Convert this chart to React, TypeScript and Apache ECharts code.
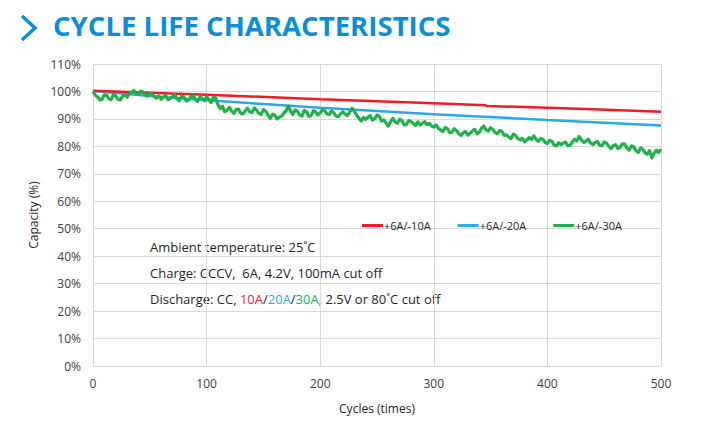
import React, { useEffect, useRef } from "react";
import * as echarts from "echarts";

// Capacity retention (%) against cycle count for three discharge currents
const redPoints: [number, number][] = [
  [0, 100.3], [100, 98.8], [200, 97.2], [300, 95.7], [345, 95.0],
  [347, 94.7], [400, 94.1], [440, 93.5], [500, 92.6],
];

const bluePoints: [number, number][] = [
  [0, 100.2], [50, 98.3], [100, 96.8], [150, 95.4], [200, 94.1],
  [250, 92.9], [300, 91.7], [400, 89.6], [500, 87.6],
];

const greenPoints: [number, number][] = [
  [0, 100.0], [2, 98.6], [4, 98.0], [6, 96.9], [8, 97.2], [10, 98.8], [12, 98.6], [14, 97.3],
  [16, 97.0], [18, 98.9], [20, 98.4], [22, 97.1], [24, 96.9], [26, 98.2], [28, 98.8], [30, 97.9],
  [32, 99.2], [34, 99.6], [36, 100.4], [38, 99.1], [40, 99.0], [42, 100.1], [44, 99.8], [46, 98.6],
  [48, 98.3], [50, 99.4], [52, 98.9], [54, 98.1], [56, 97.6], [58, 98.4], [60, 97.1], [62, 98.0],
  [64, 98.6], [66, 97.0], [68, 97.4], [70, 98.1], [72, 98.9], [74, 97.3], [76, 96.6], [78, 98.4],
  [80, 98.0], [82, 96.5], [84, 96.8], [86, 97.9], [88, 98.7], [90, 97.2], [92, 96.4], [94, 97.9],
  [96, 97.6], [98, 96.6], [100, 98.2], [102, 97.0], [104, 96.0], [106, 98.0], [108, 97.6], [110, 95.2],
  [112, 93.8], [114, 94.6], [116, 92.6], [118, 93.1], [120, 94.2], [122, 92.8], [124, 92.0], [126, 93.4],
  [128, 93.6], [130, 92.1], [132, 91.8], [134, 92.9], [136, 93.9], [138, 92.6], [140, 92.3], [142, 94.0],
  [144, 93.2], [146, 92.0], [148, 91.6], [150, 93.4], [152, 92.8], [154, 91.5], [156, 90.2], [158, 91.7],
  [160, 91.4], [162, 90.0], [164, 90.6], [166, 91.0], [168, 92.1], [170, 93.0], [172, 94.6], [174, 92.8],
  [176, 91.6], [178, 93.3], [180, 92.8], [182, 91.4], [184, 91.0], [186, 93.1], [188, 92.6], [190, 90.9],
  [192, 91.2], [194, 93.0], [196, 92.6], [198, 91.4], [200, 92.2], [202, 93.4], [204, 93.0], [206, 91.8],
  [208, 91.6], [210, 92.9], [212, 92.2], [214, 91.0], [216, 90.8], [218, 91.9], [220, 92.6], [222, 91.7],
  [224, 91.2], [226, 92.5], [228, 93.9], [230, 92.8], [232, 91.4], [234, 90.3], [236, 89.2], [238, 90.5],
  [240, 89.8], [242, 90.6], [244, 91.2], [246, 89.6], [248, 90.0], [250, 91.4], [252, 91.0], [254, 89.2],
  [256, 89.6], [258, 88.6], [260, 87.4], [262, 89.0], [264, 90.2], [266, 88.9], [268, 88.4], [270, 89.9],
  [272, 89.4], [274, 87.8], [276, 88.0], [278, 89.4], [280, 89.0], [282, 88.3], [284, 87.6], [286, 88.9],
  [288, 87.8], [290, 88.4], [292, 89.0], [294, 87.9], [296, 88.4], [298, 87.4], [300, 87.0], [302, 87.8],
  [304, 86.6], [306, 86.0], [308, 85.4], [310, 86.9], [312, 86.4], [314, 85.0], [316, 85.2], [318, 86.4],
  [320, 85.8], [322, 84.6], [324, 84.0], [326, 85.0], [328, 85.4], [330, 84.1], [332, 84.8], [334, 85.6],
  [336, 86.2], [338, 84.6], [340, 85.0], [342, 86.6], [344, 87.4], [346, 86.0], [348, 85.6], [350, 86.8],
  [352, 86.2], [354, 85.0], [356, 84.6], [358, 85.8], [360, 85.4], [362, 84.0], [364, 84.2], [366, 83.4],
  [368, 82.8], [370, 84.4], [372, 84.0], [374, 82.8], [376, 82.4], [378, 82.9], [380, 81.6], [382, 82.4],
  [384, 83.2], [386, 82.5], [388, 83.8], [390, 82.6], [392, 81.8], [394, 82.9], [396, 82.6], [398, 81.4],
  [400, 81.0], [402, 82.2], [404, 81.8], [406, 80.4], [408, 80.2], [410, 81.3], [412, 80.6], [414, 81.2],
  [416, 81.6], [418, 80.2], [420, 80.4], [422, 81.6], [424, 82.6], [426, 82.0], [428, 83.6], [430, 82.3],
  [432, 81.4], [434, 82.0], [436, 82.6], [438, 81.2], [440, 80.6], [442, 81.4], [444, 81.8], [446, 80.4],
  [448, 80.2], [450, 81.6], [452, 81.2], [454, 80.0], [456, 79.2], [458, 80.2], [460, 80.6], [462, 79.2],
  [464, 79.6], [466, 80.9], [468, 80.8], [470, 79.4], [472, 78.6], [474, 80.2], [476, 79.8], [478, 78.4],
  [480, 77.8], [482, 79.4], [484, 79.0], [486, 77.6], [488, 77.2], [490, 78.4], [492, 75.8], [494, 77.6],
  [496, 78.6], [498, 77.8], [500, 79.0],
];

const seriesNames = ["+6A/-10A", "+6A/-20A", "+6A/-30A"];
const seriesColors = ["#ee1c25", "#29a9e6", "#22b04b"];

const FONT = "'Open Sans', 'Noto Sans', sans-serif";
const TEXT_DARK = "#262626";
const AXIS_TEXT = "#404040";
const GRID_COLOR = "#d9d9d9";
const TITLE_BLUE = "#0b8ed8";

export default function App() {
  const ref = useRef<HTMLDivElement>(null);

  useEffect(() => {
    if (!ref.current) return;
    const chart = echarts.init(ref.current, undefined, { renderer: "svg" });

    chart.setOption({
      animation: false,
      backgroundColor: "#ffffff",
      textStyle: { fontFamily: FONT },
      grid: { left: 93, right: 59, top: 64, bottom: 71, containLabel: false },
      legend: {
        data: seriesNames,
        left: 362,
        top: 220,
        padding: 0,
        icon: "rect",
        itemWidth: 21,
        itemHeight: 3,
        itemGap: 27,
        textStyle: { fontFamily: FONT, fontSize: 11, color: TEXT_DARK, padding: [0, 0, 0, -4] },
      },
      xAxis: {
        type: "value",
        min: 0,
        max: 500,
        interval: 100,
        name: "Cycles (times)",
        nameLocation: "middle",
        nameGap: 36,
        nameTextStyle: { fontFamily: FONT, fontSize: 12, color: TEXT_DARK },
        axisLine: { show: true, lineStyle: { color: GRID_COLOR } },
        axisTick: { show: false },
        axisLabel: { fontFamily: FONT, fontSize: 12, color: AXIS_TEXT, margin: 11 },
        splitLine: { show: true, lineStyle: { color: GRID_COLOR, width: 1 } },
      },
      yAxis: {
        type: "value",
        min: 0,
        max: 110,
        interval: 10,
        name: "Capacity (%)",
        nameLocation: "middle",
        nameRotate: 90,
        nameGap: 46,
        nameTextStyle: { fontFamily: FONT, fontSize: 12, color: TEXT_DARK },
        axisLine: { show: true, lineStyle: { color: GRID_COLOR } },
        axisTick: { show: false },
        axisLabel: { fontFamily: FONT, fontSize: 12, color: AXIS_TEXT, formatter: "{value}%", margin: 12 },
        splitLine: { show: true, lineStyle: { color: GRID_COLOR, width: 1 } },
      },
      series: [
        {
          name: seriesNames[0],
          type: "line",
          data: redPoints,
          showSymbol: false,
          color: seriesColors[0],
          lineStyle: { width: 2.5, color: seriesColors[0] },
          z: 3,
        },
        {
          name: seriesNames[1],
          type: "line",
          data: bluePoints,
          showSymbol: false,
          color: seriesColors[1],
          lineStyle: { width: 2.5, color: seriesColors[1] },
          z: 2,
        },
        {
          name: seriesNames[2],
          type: "line",
          data: greenPoints,
          showSymbol: false,
          color: seriesColors[2],
          lineStyle: { width: 3.2, color: seriesColors[2], join: "round" },
          z: 4,
        },
      ],
      graphic: [
        {
          type: "polyline",
          shape: { points: [[22, 16], [35, 28], [22, 40]] },
          style: { stroke: TITLE_BLUE, lineWidth: 3.5, fill: "none" },
        },
        {
          type: "text",
          left: 53,
          top: 11,
          style: {
            text: "CYCLE LIFE CHARACTERISTICS",
            fontFamily: FONT,
            fontSize: 27.6,
            fontWeight: "bold",
            fill: TITLE_BLUE,
          },
        },
        {
          type: "text",
          left: 150,
          top: 240,
          style: {
            text: "Ambient temperature: 25˚C",
            fontFamily: FONT,
            fontSize: 13,
            fill: TEXT_DARK,
          },
        },
        {
          type: "text",
          left: 150,
          top: 266,
          style: {
            text: "Charge: CCCV,  6A, 4.2V, 100mA cut off",
            fontFamily: FONT,
            fontSize: 13,
            fill: TEXT_DARK,
          },
        },
        {
          type: "text",
          left: 150,
          top: 292,
          style: {
            text: "Discharge: CC, {r|10A}/{b|20A}/{g|30A}, 2.5V or 80˚C cut off",
            fontFamily: FONT,
            fontSize: 13,
            fill: TEXT_DARK,
            rich: {
              r: { fill: seriesColors[0], fontFamily: FONT, fontSize: 13 },
              b: { fill: seriesColors[1], fontFamily: FONT, fontSize: 13 },
              g: { fill: seriesColors[2], fontFamily: FONT, fontSize: 13 },
            },
          },
        },
      ],
    });

    return () => {
      chart.dispose();
    };
  }, []);

  return <div ref={ref} style={{ width: 720, height: 437, margin: -8 }} />;
}
